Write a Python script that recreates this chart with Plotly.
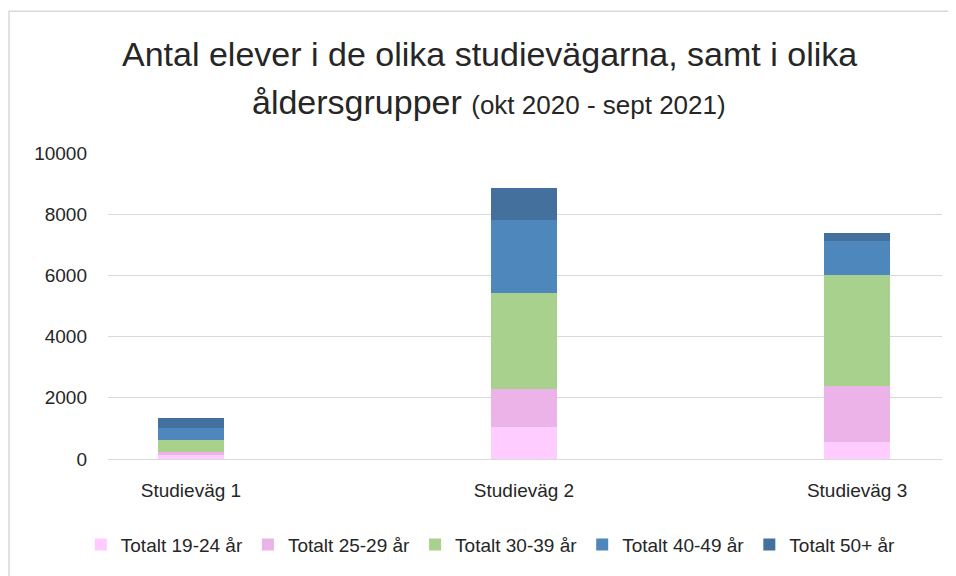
import plotly.graph_objects as go

# Data
kategorier = ["Studieväg 1", "Studieväg 2", "Studieväg 3"]
grupper = ["Totalt 19-24 år", "Totalt 25-29 år", "Totalt 30-39 år", "Totalt 40-49 år", "Totalt 50+ år"]
alder_19_24 = [120, 1060, 540]
alder_25_29 = [110, 1240, 1830]
alder_30_39 = [390, 3130, 3640]
alder_40_49 = [380, 2390, 1100]
alder_50_plus = [325, 1040, 270]
farger = ["#FFCCFF", "#ECB3E8", "#A9D18E", "#4D87BB", "#43709D"]

serier = [alder_19_24, alder_25_29, alder_30_39, alder_40_49, alder_50_plus]

FONT = "Liberation Sans, Arial, sans-serif"

# sidan har 8px marginal i webbläsaren, därför 948x568
B, H = 948, 568
ML, MT, PW, PH = 100, 145, 834, 311

fig = go.Figure()
for namn, varden, farg in zip(grupper, serier, farger):
    fig.add_trace(
        go.Bar(
            x=kategorier,
            y=varden,
            name=namn,
            marker=dict(color=farg, line=dict(width=0)),
            width=0.2,
        )
    )

# rubrik i två rader, som annotationer för att styra radavståndet
rubrik_x = (481 - ML) / PW
rubrik = [
    ("Antal elever i de olika studievägarna, samt i olika", 1 + (MT - 44) / PH),
    ("åldersgrupper <span style='font-size:26px'>(okt 2020 - sept 2021)</span>", 1 + (MT - 93) / PH),
]
annotations = [
    dict(
        text=t, x=rubrik_x, y=y, xref="paper", yref="paper",
        xanchor="center", yanchor="middle", showarrow=False,
        font=dict(size=34, color="#262626", family=FONT),
    )
    for t, y in rubrik
]

fig.update_layout(
    barmode="stack",
    width=B,
    height=H,
    margin=dict(l=ML, r=B - ML - PW, t=MT, b=H - MT - PH),
    paper_bgcolor="white",
    plot_bgcolor="white",
    font=dict(family=FONT, color="#404040", size=19),
    annotations=annotations,
    legend=dict(
        orientation="h",
        x=0.459,
        xanchor="center",
        y=-0.28,
        yanchor="middle",
        font=dict(size=19, color="#262626"),
        itemwidth=30,
        traceorder="normal",
    ),
    shapes=[
        dict(
            type="rect",
            xref="paper",
            yref="paper",
            x0=-(ML - 1) / PW,
            x1=1.2,
            y0=-0.5,
            y1=1 + (MT - 1) / PH,
            line=dict(color="#D9D9D9", width=1.5),
            layer="below",
        )
    ],
)

fig.update_xaxes(
    range=[-0.249, 2.255],
    showgrid=False,
    showline=False,
    ticks="",
    ticklabelstandoff=18,
    tickfont=dict(size=19, color="#262626"),
)
fig.update_yaxes(
    range=[0, 10000],
    dtick=2000,
    tickformat="d",
    showgrid=True,
    gridcolor="#D9D9D9",
    gridwidth=1,
    zeroline=True,
    zerolinecolor="#D9D9D9",
    zerolinewidth=1,
    showline=False,
    ticklabelstandoff=20,
    tickfont=dict(size=19, color="#262626"),
)

fig.write_html("out.html")
